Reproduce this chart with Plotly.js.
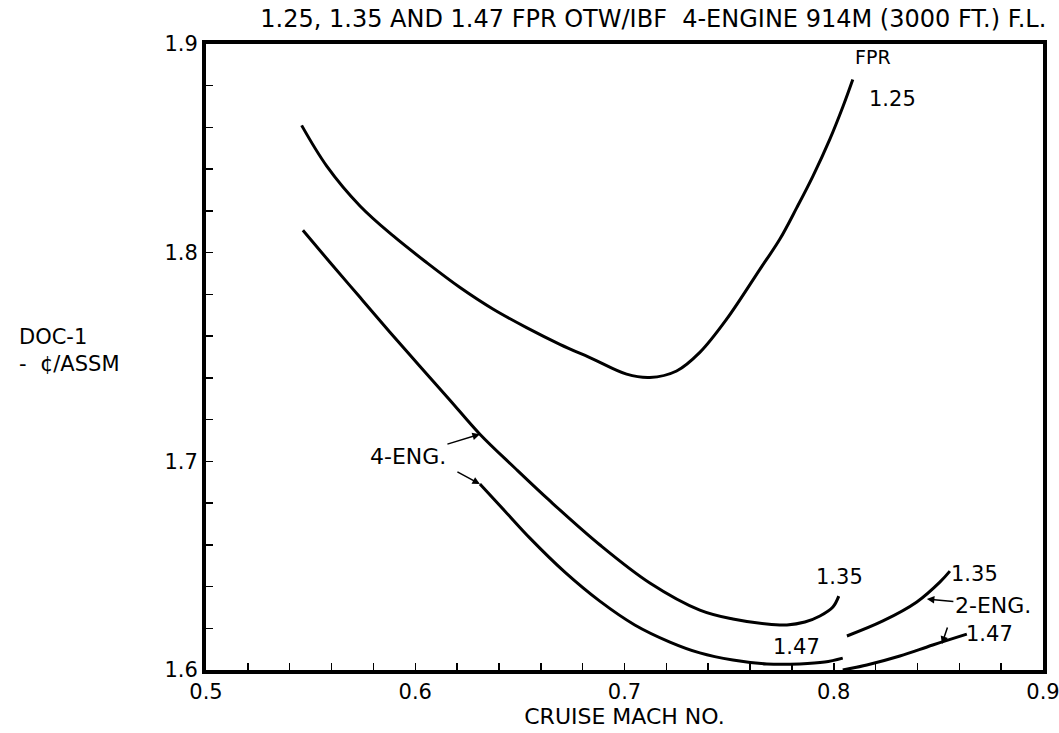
<!DOCTYPE html>
<html>
<head>
<meta charset="utf-8">
<script src="https://cdn.plot.ly/plotly-3.0.1.min.js"></script>
<style>html,body{margin:0;padding:0;background:#fff;}#chart{width:1059px;height:733px;}</style>
</head>
<body>
<div id="chart"></div>
<script>
// FPR 1.25, 4-engine
const mach125 = [0.5457, 0.5577, 0.5736, 0.5895, 0.6054, 0.6214, 0.6373, 0.6532, 0.6691, 0.6850, 0.7010, 0.7121, 0.7249, 0.7360, 0.7488, 0.7647, 0.7742, 0.7824, 0.7900, 0.7981, 0.8045, 0.8091];
const doc125  = [1.8610, 1.8415, 1.8224, 1.8080, 1.7953, 1.7833, 1.7729, 1.7641, 1.7561, 1.7490, 1.7418, 1.7402, 1.7433, 1.7522, 1.7681, 1.7920, 1.8064, 1.8217, 1.8366, 1.8543, 1.8703, 1.8830];
// FPR 1.35, 4-engine
const mach135_4 = [0.5463, 0.5592, 0.5736, 0.5879, 0.6022, 0.6166, 0.6309, 0.6476, 0.6644, 0.6883, 0.7121, 0.7360, 0.7518, 0.7680, 0.7776, 0.7862, 0.7934, 0.7996, 0.8024];
const doc135_4  = [1.8107, 1.7954, 1.7786, 1.7619, 1.7456, 1.7293, 1.7130, 1.6968, 1.6810, 1.6599, 1.6417, 1.6287, 1.6244, 1.6220, 1.6216, 1.6230, 1.6259, 1.6302, 1.6354];
// FPR 1.47, 4-engine
const mach147_4 = [0.6309, 0.6429, 0.6548, 0.6715, 0.6882, 0.7049, 0.7217, 0.7360, 0.7518, 0.7680, 0.7838, 0.7957, 0.8043];
const doc147_4  = [1.6891, 1.6761, 1.6632, 1.6469, 1.6330, 1.6216, 1.6134, 1.6082, 1.6048, 1.6029, 1.6029, 1.6038, 1.6057];
// FPR 1.35, 2-engine
const mach135_2 = [0.8063, 0.8235, 0.8397, 0.8507, 0.8555];
const doc135_2  = [1.6163, 1.6235, 1.6326, 1.6421, 1.6474];
// FPR 1.47, 2-engine
const mach147_2 = [0.8043, 0.8158, 0.8316, 0.8473, 0.8636];
const doc147_2  = [1.6000, 1.6024, 1.6067, 1.6120, 1.6172];

const xTicks = [0.5, 0.6, 0.7, 0.8, 0.9];
const xTickText = ['0.5', '0.6', '0.7', '0.8', '0.9'];
const yTicks = [1.6, 1.7, 1.8, 1.9];
const yTickText = ['1.6', '1.7', '1.8', '1.9'];

const FONT = '"DejaVu Sans", sans-serif';
const lineStyle = {color: '#000', width: 3, shape: 'spline', smoothing: 1};

const traces = [
  {x: mach125, y: doc125, mode: 'lines', line: lineStyle, hoverinfo: 'skip'},
  {x: mach135_4, y: doc135_4, mode: 'lines', line: lineStyle, hoverinfo: 'skip'},
  {x: mach147_4, y: doc147_4, mode: 'lines', line: lineStyle, hoverinfo: 'skip'},
  {x: mach135_2, y: doc135_2, mode: 'lines', line: lineStyle, hoverinfo: 'skip'},
  {x: mach147_2, y: doc147_2, mode: 'lines', line: lineStyle, hoverinfo: 'skip'}
];

function lbl(x, y, text, size) {
  return {x: x, y: y, xref: 'x', yref: 'y', text: text, showarrow: false,
          font: {family: FONT, size: size || 21, color: '#000'}};
}
function arrow(x, y, ax, ay, text) {
  return {x: x, y: y, xref: 'x', yref: 'y', text: text, showarrow: true,
          ax: ax, ay: ay, arrowhead: 2, arrowsize: 1, arrowwidth: 1.5, arrowcolor: '#000',
          standoff: 0, startstandoff: 0,
          font: {family: FONT, size: 22, color: '#000'}};
}

const annotations = [
  lbl(0.8187, 1.8936, 'FPR', 19),
  lbl(0.8282, 1.8735, '1.25'),
  lbl(0.8029, 1.6445, '1.35'),
  lbl(0.7824, 1.6110, '1.47'),
  lbl(0.8674, 1.6460, '1.35'),
  lbl(0.8746, 1.6172, '1.47'),
  arrow(0.6309, 1.7130, -72, 22, '4-ENG.'),
  arrow(0.6309, 1.6891, -24, -13, ''),
  arrow(0.8445, 1.6340, 66, 6, '2-ENG.'),
  arrow(0.8517, 1.6125, 6, -18, '')
];

const layout = {
  width: 1059, height: 733,
  margin: {l: 206, r: 16, t: 44, b: 63},
  paper_bgcolor: '#fff', plot_bgcolor: '#fff',
  showlegend: false,
  font: {family: FONT, color: '#000', size: 19},
  title: {text: '1.25, 1.35 AND 1.47 FPR OTW/IBF  4-ENGINE 914M (3000 FT.) F.L.',
          font: {family: FONT, size: 24, color: '#000'},
          x: 0.988, xanchor: 'right', y: 0.975, yanchor: 'middle'},
  xaxis: {
    range: [0.5, 0.9], tickvals: xTicks, ticktext: xTickText,
    ticks: 'inside', ticklen: 7, tickwidth: 1.5, tickcolor: '#000',
    minor: {dtick: 0.02, ticks: 'inside', ticklen: 7, tickwidth: 1.5, tickcolor: '#000', showgrid: false},
    showline: true, linecolor: '#000', linewidth: 4, mirror: true,
    showgrid: false, zeroline: false, ticklabeloverflow: 'allow',
    tickfont: {family: FONT, size: 21, color: '#000'},
    title: {text: 'CRUISE MACH NO.', font: {family: FONT, size: 22, color: '#000'}, standoff: 6}
  },
  yaxis: {
    range: [1.6, 1.9], tickvals: yTicks, ticktext: yTickText,
    ticks: 'inside', ticklen: 7, tickwidth: 1.5, tickcolor: '#000',
    minor: {dtick: 0.02, ticks: 'inside', ticklen: 7, tickwidth: 1.5, tickcolor: '#000', showgrid: false},
    showline: true, linecolor: '#000', linewidth: 4, mirror: true,
    showgrid: false, zeroline: false, ticklabeloverflow: 'allow',
    tickfont: {family: FONT, size: 21, color: '#000'}
  },
  annotations: annotations.concat([
    {xref: 'paper', yref: 'paper', x: -0.163, y: 0.51, xanchor: 'center', yanchor: 'middle',
     text: 'DOC-1<br>-  ¢/ASSM', showarrow: false, align: 'left',
     font: {family: FONT, size: 21, color: '#000'}}
  ])
};

Plotly.newPlot('chart', traces, layout, {displayModeBar: false, staticPlot: true});
</script>
</body>
</html>
